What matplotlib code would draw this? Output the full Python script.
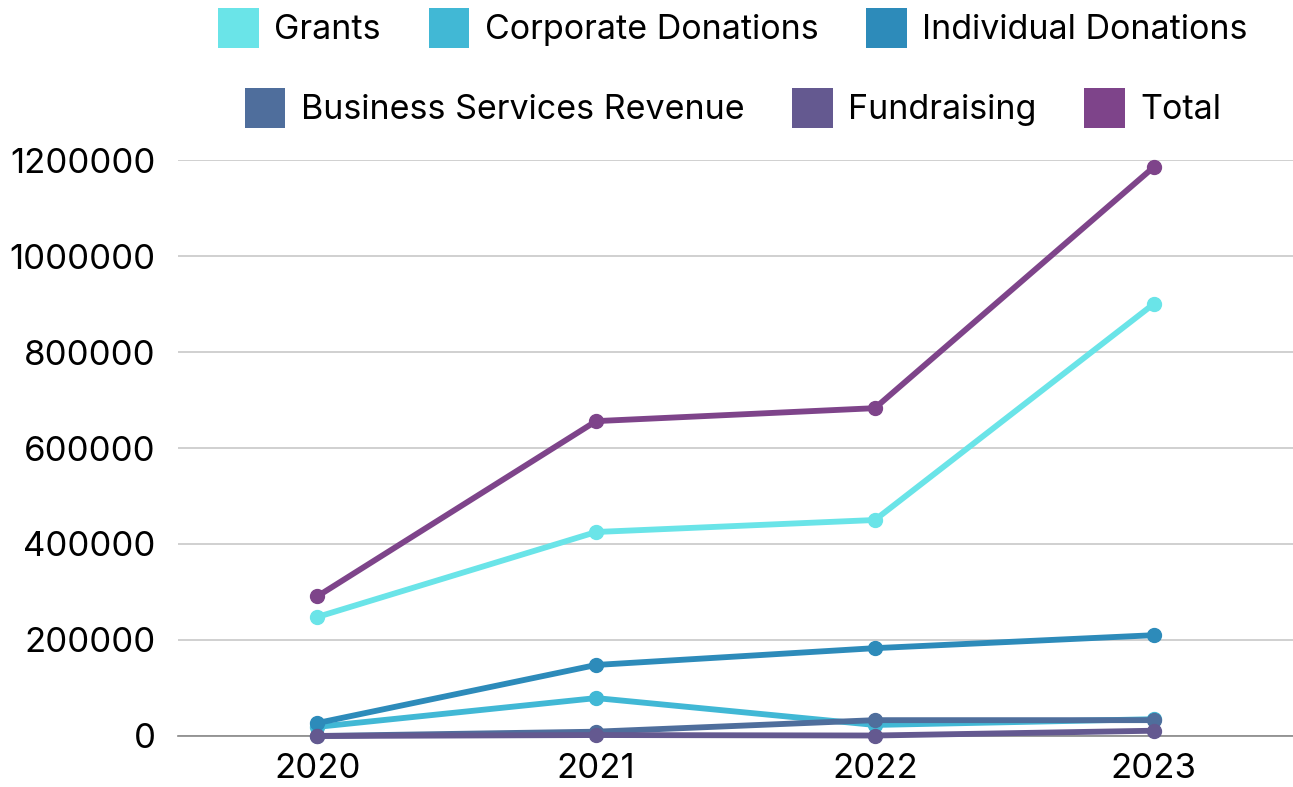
import matplotlib
matplotlib.use("Agg")
import matplotlib.pyplot as plt
from matplotlib.patches import Patch

plt.rcParams['font.family'] = ['Inter', 'DejaVu Sans']

years = ["2020", "2021", "2022", "2023"]
grants = [248000, 425000, 450000, 900000]
corporate = [19000, 79000, 23000, 35000]
individual = [27000, 148000, 183000, 210000]
business = [0, 9000, 33000, 33000]
fundraising = [0, 2000, 1000, 11000]
total = [291000, 656000, 683000, 1185000]

names = ["Grants", "Corporate Donations", "Individual Donations",
         "Business Services Revenue", "Fundraising", "Total"]
series = [grants, corporate, individual, business, fundraising, total]
colors = ["#6AE4E8", "#41B8D5", "#2D8BBA", "#4F6E9C", "#645990", "#7E448A"]

fig = plt.figure(figsize=(12.93, 7.87), dpi=100)
ax = fig.add_axes([178/1293, 1-736/787, 1-178/1293, (736-160)/787])

x = list(range(len(years)))
for vals, c in zip(series, colors):
    ax.plot(x, vals, color=c, lw=4.2, marker='o', markersize=10,
            solid_capstyle='round', clip_on=False, zorder=3)

ax.set_xlim(-0.5, 3.5)
ax.set_ylim(0, 1200000)
ax.set_yticks(range(0, 1200001, 200000))
ax.set_yticklabels([str(v) for v in range(0, 1200001, 200000)])
ax.set_xticks(x)
ax.set_xticklabels(years)
ax.tick_params(axis='both', length=0, labelsize=25, colors='black')
ax.tick_params(axis='y', pad=16)
ax.tick_params(axis='x', pad=12)
ax.grid(axis='y', color='#C8C8C8', lw=1.2)
ax.set_axisbelow(True)
for s in ['left', 'right', 'top']:
    ax.spines[s].set_visible(False)
ax.spines['bottom'].set_color('#888888')
ax.spines['bottom'].set_linewidth(1.2)

def make_legend(idx, ycenter):
    handles = [Patch(facecolor=colors[i], edgecolor='none') for i in idx]
    labels = [names[i] for i in idx]
    leg = fig.legend(handles, labels, loc='center', bbox_to_anchor=(733/1293, 1-ycenter/787),
                     ncol=len(idx), frameon=False, fontsize=24.5,
                     handlelength=1.2, handleheight=1.45, handletextpad=0.45,
                     columnspacing=1.4, borderpad=0, borderaxespad=0)
    return leg

make_legend([0, 1, 2], 28)
make_legend([3, 4, 5], 108)

fig.savefig("out.png", dpi=100)
